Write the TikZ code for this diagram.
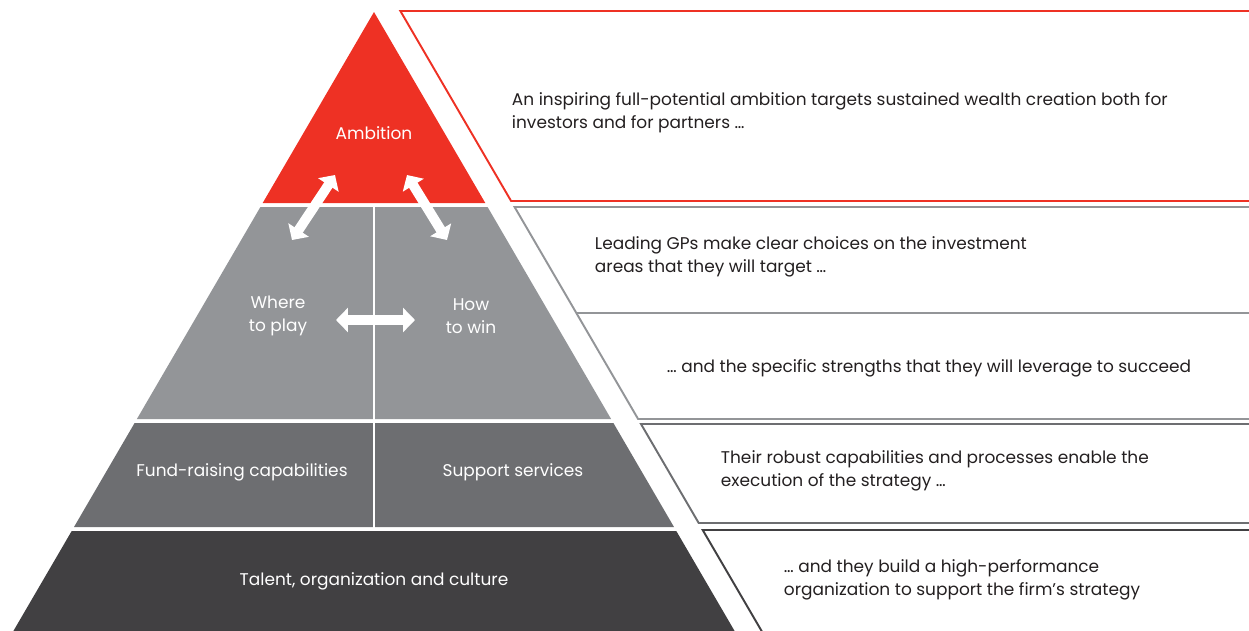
\documentclass[tikz,border=0pt]{standalone}
\usepackage{fontspec}
\setmainfont{Poppins}
\usepackage{xcolor}
\usepackage{tikz}
\usetikzlibrary{arrows.meta, positioning}
\definecolor{bainred}{RGB}{238,49,36}
\definecolor{midgray}{RGB}{147,149,152}
\definecolor{darkgray}{RGB}{109,110,113}
\definecolor{charcoal}{RGB}{65,64,66}
\definecolor{textgray}{RGB}{35,31,32}

\begin{document}
\begin{tikzpicture}[x=0.02cm, y=-0.02cm, line width=1.1pt,
    pyrlabel/.style={text=white, font=\fontsize{9.65}{13}\selectfont, align=center},
    bandtext/.style={text=textgray, font=\fontsize{9.65}{13.3}\selectfont, align=left, anchor=west, inner sep=0pt},
    dblarrow/.style={white, line width=5.6pt, {Triangle[length=0.24cm, width=0.48cm]}-{Triangle[length=0.24cm, width=0.48cm]}}]
    \useasboundingbox (0,0) rectangle (1249,630);
    \clip (0,0) rectangle (1249,630);

    % --- Pyramid ---
    \fill[bainred]  (374,12) -- (485.3,203) -- (262.7,203) -- cycle;        % ambition
    \fill[midgray]  (260.4,207) -- (487.6,207) -- (611.1,419) -- (136.9,419) -- cycle;
    \fill[darkgray] (134.6,423) -- (613.4,423) -- (674,527) -- (74,527) -- cycle;
    \fill[charcoal] (71.7,531) -- (676.3,531) -- (735.2,632) -- (12.8,632) -- cycle;
    \draw[white, line width=1.7pt] (374,205) -- (374,529);                  % split

    % --- Bands on the right ---
    \draw[bainred]  (1252,11) -- (400.4,11) -- (511.1,201) -- (1252,201);
    \draw[midgray]  (1252,207) -- (514.6,207) -- (638.1,419) -- (1252,419);
    \draw[midgray]  (576.3,313) -- (1252,313);                              % divider
    \draw[darkgray] (1252,424) -- (641,424) -- (698.7,523) -- (1252,523);
    \draw[charcoal] (1252,530) -- (702.7,530) -- (762.2,632);

    % --- Arrows ---
    \draw[dblarrow] (335,175) -- (292,240);
    \draw[dblarrow] (407,175) -- (447,240);
    \draw[dblarrow] (336,320) -- (415,320);

    % Labels
    \node[pyrlabel] (amb)     at (374,133) {Ambition};
    \node[pyrlabel] (where)   at (278,316) {Where\\to play};
    \node[pyrlabel] (how)     at (471,316) {How\\to win};
    \node[pyrlabel] (fund)    at (242,472) {Fund-raising capabilities};
    \node[pyrlabel] (support) at (513,472) {Support services};
    \node[pyrlabel] (talent)  at (374,581) {Talent, organization and culture};

    \node[bandtext] (txtamb) at (511,113)
      {An inspiring full-potential ambition targets sustained wealth creation both for\\investors and for partners …};
    \node[bandtext] (txtwhere) at (594,257)
      {Leading GPs make clear choices on the investment\\areas that they will target …};
    \node[bandtext] (txthow) at (666,368)
      {… and the specific strengths that they will leverage to succeed};
    \node[bandtext] (txtcap) at (720,471)
      {Their robust capabilities and processes enable the\\execution of the strategy …};
    \node[bandtext] (txtorg) at (783,580)
      {… and they build a high-performance\\organization to support the firm’s strategy};
  \end{tikzpicture}
\end{document}
